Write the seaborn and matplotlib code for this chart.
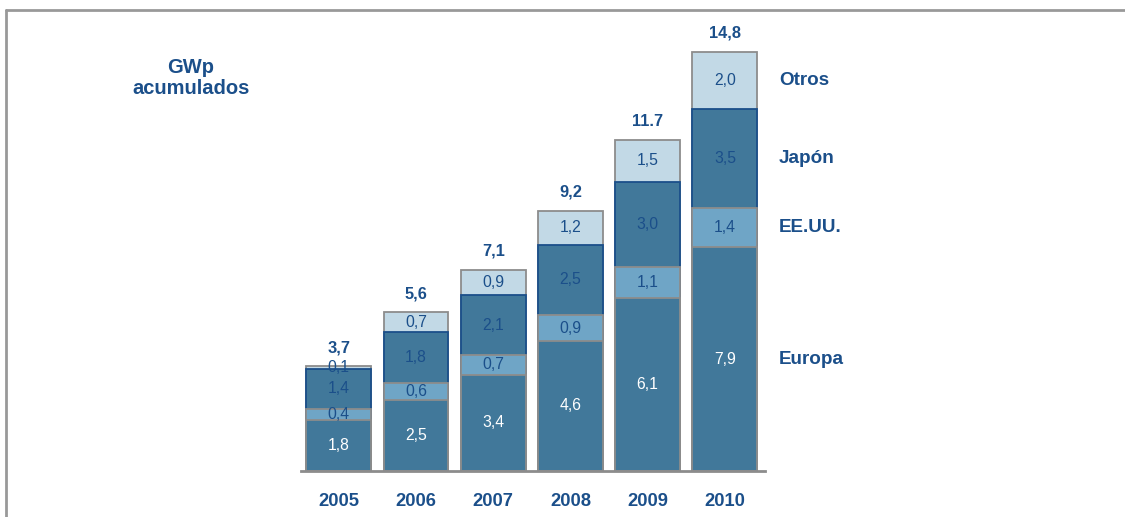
import matplotlib
matplotlib.use("Agg")
import matplotlib.pyplot as plt
from matplotlib.lines import Line2D
import seaborn as sns
import numpy as np
import pandas as pd

years = ["2005", "2006", "2007", "2008", "2009", "2010"]
europa = [1.8, 2.5, 3.4, 4.6, 6.1, 7.9]
eeuu = [0.4, 0.6, 0.7, 0.9, 1.1, 1.4]
japon = [1.4, 1.8, 2.1, 2.5, 3.0, 3.5]
otros = [0.1, 0.7, 0.9, 1.2, 1.5, 2.0]
totals = [3.7, 5.6, 7.1, 9.2, 11.7, 14.8]
total_labels = ["3,7", "5,6", "7,1", "9,2", "11.7", "14,8"]
series_names = ["Europa", "EE.UU.", "Japón", "Otros"]

sns.set_theme(style="white")
plt.rcParams["font.family"] = ["Liberation Sans", "DejaVu Sans"]

NAVY = "#1b4f8a"
GRAY = "#8c8c8c"
c_europa = "#41789a"
c_eeuu = "#6fa5c6"
c_japon = "#41789a"
c_otros = "#c2d9e6"

fig = plt.figure(figsize=(11.25, 5.17), dpi=100)
ax = fig.add_axes([301 / 1125, 46 / 517, (765 - 301) / 1125, (471 - 18) / 517])

e = np.array(europa)
u = np.array(eeuu)
j = np.array(japon)
o = np.array(otros)
layers = [
    (e + u + j + o, c_otros, GRAY),
    (e + u + j, c_japon, NAVY),
    (e + u, c_eeuu, GRAY),
    (e, c_europa, GRAY),
]
for vals, col, ec in layers:
    df = pd.DataFrame({"year": years, "v": vals})
    sns.barplot(data=df, x="year", y="v", order=years, color=col, saturation=1,
                edgecolor=ec, linewidth=1.3, width=0.84, ax=ax)

ax.set_xlim(-0.49, 5.52)
ax.set_ylim(0, 16.0)
ax.set_xlabel("")
ax.set_ylabel("")
ax.set_yticks([])
for s in ["top", "right", "left"]:
    ax.spines[s].set_visible(False)
ax.spines["bottom"].set_color(GRAY)
ax.spines["bottom"].set_linewidth(2)
ax.tick_params(axis="x", length=0, pad=16, labelsize=13.2, labelcolor=NAVY)
for t in ax.get_xticklabels():
    t.set_fontweight("bold")

# segment labels
for i in range(len(years)):
    base = 0.0
    for vals, tc in [(europa, "white"), (eeuu, NAVY), (japon, NAVY), (otros, NAVY)]:
        v = vals[i]
        ax.text(i, base + v / 2, f"{v:.1f}".replace(".", ","), ha="center", va="center",
                fontsize=11.3, color=tc)
        base += v
    ax.annotate(total_labels[i], (i, totals[i]), xytext=(0, 8), textcoords="offset points",
                ha="center", va="bottom", fontsize=11.8, fontweight="bold", color=NAVY)

# series labels next to last bar
base = 0.0
for name, vals in zip(series_names, [europa, eeuu, japon, otros]):
    v = vals[-1]
    ax.text(5.70, base + v / 2, name, ha="left", va="center", fontsize=13.6,
            fontweight="bold", color=NAVY, clip_on=False)
    base += v

fig.text(191 / 1125, 1 - 78 / 517, "GWp\nacumulados", ha="center", va="center",
         fontsize=14.5, fontweight="bold", color=NAVY, linespacing=1.1)

# frame
fig.add_artist(Line2D([6 / 1125, 1], [1 - 10 / 517, 1 - 10 / 517], color="#999999", lw=2,
                      transform=fig.transFigure))
fig.add_artist(Line2D([6 / 1125, 6 / 1125], [0, 1 - 10 / 517], color="#999999", lw=2,
                      transform=fig.transFigure))

fig.savefig("out.png", dpi=100)
